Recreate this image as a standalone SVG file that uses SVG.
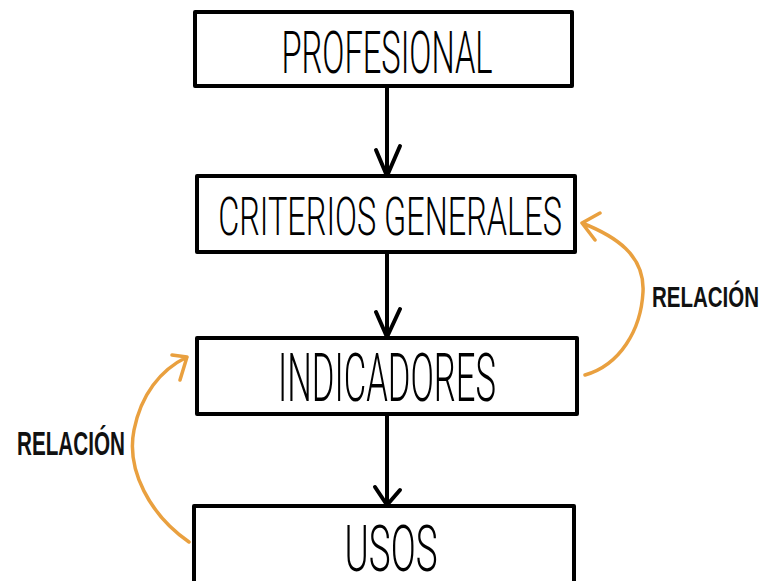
<svg xmlns="http://www.w3.org/2000/svg" width="765" height="581" viewBox="0 0 765 581">
<style>
.box{fill:#fff;stroke:#000;stroke-width:4;stroke-linejoin:round}
.t{font-family:Roboto,"Liberation Sans",Arial,sans-serif;font-weight:300;fill:#000;text-anchor:middle}
.lbl{font-family:"Liberation Sans",Arial,sans-serif;font-weight:bold;fill:#111}
.arr{fill:none;stroke:#000;stroke-width:4;stroke-linecap:round;stroke-linejoin:round}
.rel{fill:none;stroke:#E9A03F;stroke-width:3.5;stroke-linecap:round;stroke-linejoin:round}
</style>
<rect width="765" height="581" fill="#fff"/>
<g id="connectors">
<path class="arr" d="M387,88 L387,176 M376,150 L387,176 L400,146"/>
<path class="arr" d="M387,254 L387,337 M376,312 L387,337 L400,309"/>
<path class="arr" d="M387,416 L387,505 M375,487 L387,505 L400,490"/>
<path class="rel" d="M189,542 C150,515 126,470 134,430 C141,395 160,370 187,357 M172,355 L187,357 L180,380"/>
<path class="rel" d="M585,375 C620,365 641,330 643,292 C645,255 615,236 582,223 M600,213 L582,223 L595,240"/>
</g>
<g id="node-profesional">
<rect class="box" x="195" y="12" width="377" height="74"/>
<text class="t" transform="translate(387,73) scale(0.515,1)" x="0" y="0" font-size="60" textLength="410" lengthAdjust="spacingAndGlyphs">PROFESIONAL</text>
</g>
<g id="node-criterios">
<rect class="box" x="197" y="176" width="378" height="76"/>
<text class="t" transform="translate(390,235) scale(0.558,1)" x="0" y="0" font-size="54" textLength="616" lengthAdjust="spacingAndGlyphs">CRITERIOS GENERALES</text>
</g>
<g id="node-indicadores">
<rect class="box" x="197" y="338" width="380" height="76"/>
<text class="t" transform="translate(387,401) scale(0.477,1)" x="0" y="0" font-size="67" textLength="457" lengthAdjust="spacingAndGlyphs">INDICADORES</text>
</g>
<g id="node-usos">
<rect class="box" x="194" y="506" width="380" height="90"/>
<text class="t" transform="translate(391,571) scale(0.567,1)" x="0" y="0" font-size="64" textLength="164" lengthAdjust="spacingAndGlyphs">USOS</text>
</g>
<g id="labels">
<text class="lbl" transform="translate(17,455) scale(0.627,1)" x="0" y="0" font-size="33">RELACIÓN</text>
<text class="lbl" transform="translate(652,307) scale(0.683,1)" x="0" y="0" font-size="30">RELACIÓN</text>
</g>
</svg>
